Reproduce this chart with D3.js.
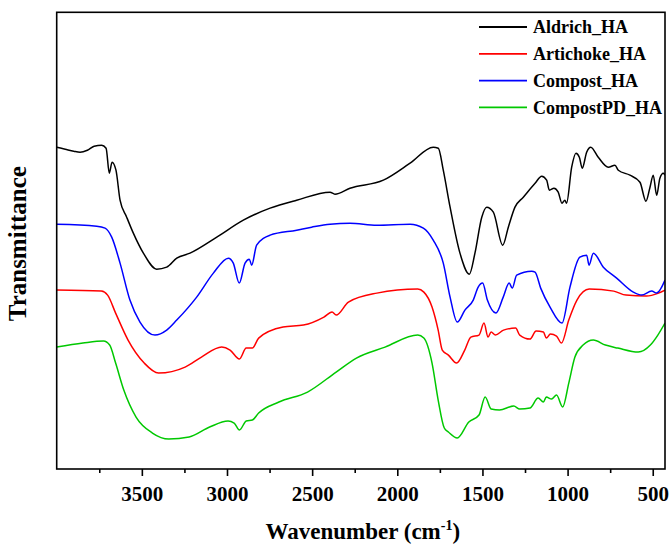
<!DOCTYPE html>
<html><head><meta charset="utf-8">
<script src="https://cdn.jsdelivr.net/npm/d3@7"></script>
<style>
html,body{margin:0;padding:0;background:#fff;}
svg{display:block;}
svg text{font-family:'Times New Roman','Liberation Serif',Tinos,'DejaVu Serif',serif !important;font-weight:bold;}
</style></head>
<body>
<svg id="chart" width="670" height="547"></svg>
<script>
// Data: [wavenumber (cm^-1), transmittance (a.u.)]
const seriesNames = ["Aldrich_HA", "Artichoke_HA", "Compost_HA", "CompostPD_HA"];
const seriesColors = ["#000000", "#ff0000", "#0000ff", "#00c800"];

const aldrich = [[4000,32.2],[3950,32.0],[3900,31.8],[3863,31.7],[3820,31.9],[3780,32.3],[3736,32.4],[3710,32.1],[3691,29.6],[3675,30.7],[3652,29.9],[3628,26.9],[3589,25.2],[3550,23.6],[3491,21.6],[3413,20.0],[3354,20.2],[3295,21.1],[3217,21.6],[3060,23.2],[2904,24.9],[2747,26.1],[2591,26.9],[2395,27.7],[2366,27.5],[2278,28.1],[2082,28.9],[1925,30.6],[1789,32.2],[1759,32.1],[1730,29.9],[1690,26.2],[1632,21.6],[1577,19.5],[1544,21.6],[1504,25.2],[1475,26.2],[1436,25.7],[1381,22.4],[1348,24.2],[1309,26.2],[1260,27.2],[1191,28.6],[1152,29.3],[1123,28.9],[1107,27.9],[1080,28.1],[1055,27.7],[1033,26.6],[1016,26.9],[1006,26.6],[976,30.2],[951,31.6],[931,31.2],[914,30.1],[888,31.7],[864,32.2],[820,31.2],[761,30.2],[722,30.4],[702,29.9],[634,29.4],[575,28.7],[540,26.8],[516,28.2],[497,29.4],[477,27.4],[458,29.1],[438,29.6],[428,29.4]];

const artichoke = [[4000,17.9],[3738,17.8],[3701,17.4],[3654,15.6],[3581,12.9],[3486,10.6],[3402,9.6],[3246,10.2],[3150,11.2],[3031,12.2],[2982,11.9],[2927,11.0],[2887,12.1],[2851,12.1],[2814,13.1],[2671,14.2],[2551,14.4],[2431,15.2],[2383,15.7],[2359,15.4],[2287,16.7],[2120,17.6],[1880,18.0],[1844,17.7],[1796,16.2],[1760,13.9],[1736,11.9],[1700,11.4],[1652,10.6],[1604,11.9],[1568,13.2],[1520,13.4],[1491,14.6],[1467,13.2],[1449,13.7],[1424,13.4],[1376,13.9],[1305,14.1],[1281,13.4],[1221,13.0],[1185,13.8],[1142,13.7],[1125,13.1],[1101,13.5],[1065,13.3],[1036,12.6],[993,14.9],[945,16.9],[873,18.0],[729,17.8],[657,17.4],[538,17.3],[466,17.6],[428,17.9]];

const compost = [[4000,24.5],[3765,24.3],[3716,24.1],[3677,23.2],[3628,20.6],[3570,16.9],[3511,14.7],[3423,13.4],[3354,13.9],[3295,14.9],[3178,17.2],[3080,19.6],[2992,21.1],[2963,20.6],[2928,18.6],[2894,20.6],[2869,21.0],[2855,20.4],[2826,22.4],[2747,23.4],[2591,23.9],[2503,24.2],[2395,24.5],[2278,24.6],[2121,24.4],[1925,24.5],[1847,24.1],[1789,22.9],[1730,20.6],[1690,17.2],[1648,14.7],[1603,15.9],[1554,16.9],[1525,18.2],[1499,18.6],[1471,16.9],[1421,15.6],[1378,17.2],[1343,18.6],[1325,18.1],[1299,19.4],[1211,19.8],[1191,19.7],[1158,18.1],[1103,16.2],[1033,14.6],[986,18.2],[928,21.2],[888,21.4],[874,20.4],[849,21.6],[790,20.2],[712,19.1],[614,17.7],[565,17.4],[506,17.8],[477,17.6],[428,18.9]];

const compostPD = [[4000,12.2],[3846,12.6],[3725,12.8],[3689,12.4],[3654,10.6],[3606,7.9],[3534,5.2],[3438,3.6],[3342,3.0],[3222,3.2],[3102,4.2],[2994,4.8],[2958,4.6],[2927,3.9],[2887,4.8],[2851,4.9],[2814,5.6],[2695,6.7],[2527,7.7],[2359,9.7],[2240,11.1],[2072,12.2],[1880,13.4],[1844,13.1],[1796,10.6],[1760,6.9],[1724,4.1],[1700,3.7],[1648,3.1],[1580,4.7],[1520,5.4],[1484,7.2],[1449,6.0],[1400,5.9],[1316,6.3],[1281,6.0],[1221,6.1],[1173,7.1],[1142,6.7],[1125,7.2],[1094,7.0],[1065,7.4],[1029,6.2],[993,8.6],[957,11.2],[909,12.4],[849,12.9],[778,12.4],[705,12.1],[585,11.7],[514,12.4],[470,13.4],[428,14.6]];

const seriesData = [aldrich, artichoke, compost, compostPD];

const majorTicks = [3500, 3000, 2500, 2000, 1500, 1000, 500];
const minorTicks = [3750, 3250, 2750, 2250, 1750, 1250, 750];
const xDomain = [4000, 428];
const yDomain = [0, 45.7];

const FONT = "'Times New Roman','Liberation Serif',Tinos,'DejaVu Serif',serif";
const svg = d3.select("#chart");
const m = {left: 56.7, right: 665, top: 12.3, bottom: 469};
const x = d3.scaleLinear().domain(xDomain).range([m.left, m.right]);
const y = d3.scaleLinear().domain(yDomain).range([m.bottom, m.top]);

svg.append("defs").append("clipPath").attr("id","clip")
  .append("rect").attr("x",m.left).attr("y",m.top)
  .attr("width",m.right-m.left).attr("height",m.bottom-m.top);

const line = d3.line().x(d=>x(d[0])).y(d=>y(d[1])).curve(d3.curveMonotoneX);

const g = svg.append("g").attr("clip-path","url(#clip)");
seriesData.forEach((s,i)=>{
  g.append("path").datum(s).attr("d",line)
   .attr("fill","none").attr("stroke",seriesColors[i])
   .attr("stroke-width",1.5).attr("stroke-linejoin","round");
});

// frame
svg.append("rect").attr("x",m.left).attr("y",m.top)
  .attr("width",m.right-m.left).attr("height",m.bottom-m.top)
  .attr("fill","none").attr("stroke","#000").attr("stroke-width",1.6);

// x axis major
const ax = svg.append("g").attr("transform",`translate(0,${m.bottom})`)
  .call(d3.axisBottom(x).tickValues(majorTicks).tickFormat(d3.format("d"))
    .tickSize(7).tickPadding(10).tickSizeOuter(0));
ax.attr("font-family", FONT).attr("font-size", 21);
ax.select(".domain").remove();
ax.selectAll(".tick line").attr("stroke","#000").attr("stroke-width",1.6);
ax.selectAll(".tick text").attr("font-size",21).attr("font-weight","bold")
  .attr("font-family",FONT).attr("fill","#000");

const axm = svg.append("g").attr("transform",`translate(0,${m.bottom})`)
  .call(d3.axisBottom(x).tickValues(minorTicks).tickFormat("").tickSize(4).tickSizeOuter(0));
axm.select(".domain").remove();
axm.selectAll(".tick line").attr("stroke","#000").attr("stroke-width",1.6);

// axis titles
const xt = svg.append("text").attr("x",(m.left+m.right)/2+2).attr("y",539)
  .attr("text-anchor","middle").attr("font-size",23).attr("font-family",FONT).attr("fill","#000");
xt.append("tspan").text("Wavenumber (cm");
xt.append("tspan").text("-1").attr("font-size",14).attr("dy",-9);
xt.append("tspan").text(")").attr("dy",9);

svg.append("text").attr("transform",`translate(26,${(m.top+m.bottom)/2+3}) rotate(-90)`)
  .attr("text-anchor","middle").attr("font-size",25).attr("font-family",FONT).attr("fill","#000").text("Transmittance");

// legend
const leg = svg.append("g");
seriesNames.forEach((n,i)=>{
  const yy = 27 + i*26.8;
  leg.append("line").attr("x1",479).attr("x2",527).attr("y1",yy).attr("y2",yy)
    .attr("stroke",seriesColors[i]).attr("stroke-width",1.8);
  leg.append("text").attr("x",533).attr("y",yy).attr("dy","0.35em")
    .attr("font-size",18).attr("font-family",FONT).attr("fill","#000").text(n);
});
</script>
</body></html>
